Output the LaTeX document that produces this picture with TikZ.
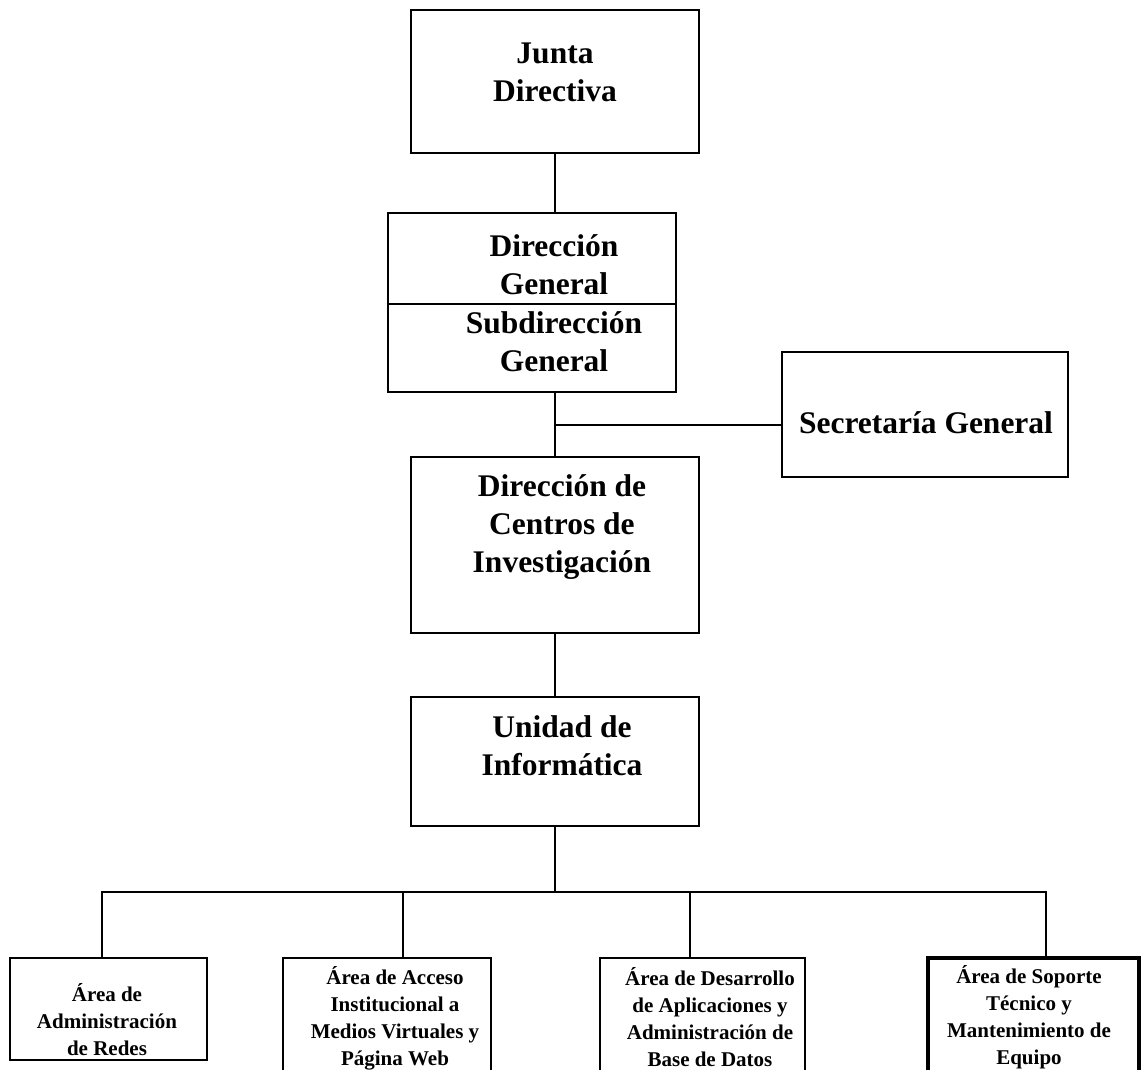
\documentclass[tikz,border=0pt]{standalone}
\usepackage{fontspec}
\setmainfont{Liberation Serif}
\usetikzlibrary{positioning,calc}
\tikzset{
    unit/.style={draw,line width=1.4pt,inner sep=0pt},
    unittext/.style={font=\bfseries\fontsize{15.75}{19}\selectfont,align=center,inner sep=0pt},
    areatext/.style={font=\bfseries\fontsize{10.5}{13.5}\selectfont,align=center,inner sep=0pt},
    link/.style={line width=1pt}
}

\begin{document}
\begin{tikzpicture}[x=0.5pt,y=-0.5pt]
    \useasboundingbox (0,0) rectangle (1148,1070);
    \clip (0,0) rectangle (1148,1070);

    % Boxes
    \node[unit,minimum width=144pt,minimum height=71.5pt] (junta) at (555,81.5) {};
    \node[unit,minimum width=144pt,minimum height=89.5pt] (dir) at (532,302.5) {};
    \node[unit,minimum width=143pt,minimum height=62.5pt] (secre) at (925,414.5) {};
    \node[unit,minimum width=144pt,minimum height=88pt] (centros) at (555,545) {};
    \node[unit,minimum width=144pt,minimum height=64.5pt] (unidad) at (555,761.5) {};
    \coordinate (split) at (0,304);
    \draw[line width=1.4pt] (dir.west |- split) -- (dir.east |- split);

    % Labels
    \node[unittext] (juntat) at (555,72) {Junta\\Directiva};
    \node[unittext] (dirt) at (554,265) {Dirección\\General};
    \node[unittext] (subt) at (554,342) {Subdirección\\General};
    \node[unittext] (secret) at (926,423) {Secretaría General};
    \node[unittext] (centrost) at (562,527) {Dirección de\\Centros de\\Investigación};
    \node[unittext] (unidadt) at (562,746) {Unidad de\\Informática};

    % Areas
    \node[unit,minimum width=98.5pt,minimum height=51pt] (a1) at (108.5,1009) {};
    \node[unit,minimum width=104pt,minimum height=61pt] (a2) at (387,1019) {};
    \node[unit,minimum width=102.5pt,minimum height=61pt] (a3) at (702.5,1019) {};
    \node[unit,line width=2pt,minimum width=105.5pt,minimum height=61pt] (a4) at (1033.5,1019) {};
    \node[areatext] (a1t) at (107,1020) {Área de\\Administración\\de Redes};
    \node[areatext] (a2t) at (395,1018) {Área de Acceso\\Institucional a\\Medios Virtuales y\\Página Web};
    \node[areatext] (a3t) at (710,1017) {Área de Desarrollo\\de Aplicaciones y\\Administración de\\Base de Datos};
    \node[areatext] (a4t) at (1029,1017) {Área de Soporte\\Técnico y\\Mantenimiento de\\Equipo};

    % Connectors
    \draw[link] (junta.south) -- (junta.south |- dir.north);
    \draw[link] (centros.north |- dir.south) -- (centros.north);
    \coordinate (branch) at (0,425);
    \draw[link] (branch -| centros.north) -- (branch -| secre.west);
    \draw[link] (centros.south) -- (unidad.north);
    \coordinate (bus) at (555,892);
    \draw[link] (unidad.south) -- (bus);
    \draw[link] ([xshift=-3.5pt]a1.north) |- (bus) -| ([xshift=6pt]a4.north);
    \draw[link] ([xshift=8pt]a2.north) -- ([xshift=8pt]a2.north |- bus);
    \draw[link] ([xshift=-6.5pt]a3.north) -- ([xshift=-6.5pt]a3.north |- bus);
\end{tikzpicture}
\end{document}
